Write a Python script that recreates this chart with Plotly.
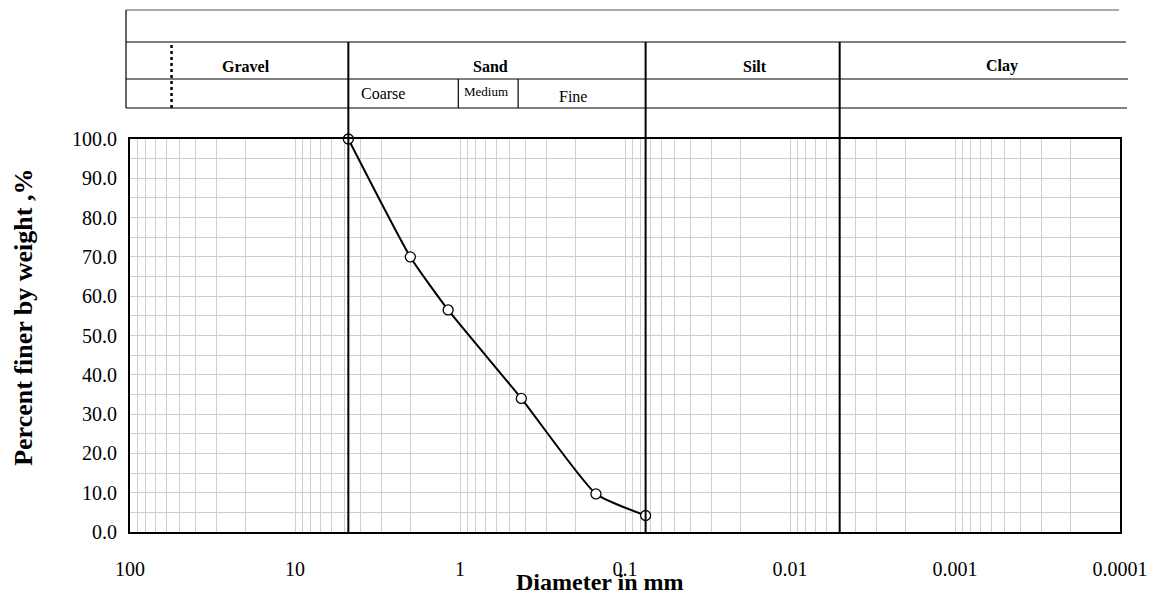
import plotly.graph_objects as go

# ---------------- data ----------------
diameter_mm = [4.75, 2.0, 1.18, 0.425, 0.15, 0.075]
percent_finer = [100.0, 70.0, 56.5, 34.0, 9.7, 4.2]

x_decades = [100, 10, 1, 0.1, 0.01, 0.001, 0.0001]
x_tick_labels = ["100", "10", "1", "0.1", "0.01", "0.001", "0.0001"]
y_tick_values = list(range(0, 101, 5))
y_tick_labels = [f"{v:.1f}" if v % 10 == 0 else "" for v in y_tick_values]

boundaries_mm = [4.75, 0.075, 0.005]     # gravel/sand, sand/silt, silt/clay
dotted_mm = 56

soil_names = ["Gravel", "Sand", "Silt", "Clay"]
sand_names = ["Coarse", "Medium", "Fine"]

# ---------------- geometry (pixels) ----------------
W, H = 1160, 594
L, R, T, B = 130, 1123, 139, 532
pw, ph = R - L, B - T


def px(x):
    return (x - L) / pw


def py(y):
    return (B - y) / ph


FONT = "Liberation Serif, Times New Roman, serif"

# x grid values: all 1..9 multiples within the decades
x_grid = []
for k in range(-4, 2):
    for m in range(1, 10):
        x_grid.append(m * 10.0 ** k)
x_grid.append(100.0)
x_grid_text = []
for v in x_grid:
    lab = ""
    for d, t in zip(x_decades, x_tick_labels):
        if abs(v - d) / d < 1e-9:
            lab = t
    x_grid_text.append(lab)

fig = go.Figure()
fig.add_trace(go.Scatter(
    x=diameter_mm, y=percent_finer, mode="lines+markers",
    line=dict(color="black", width=2, shape="spline", smoothing=0.5),
    marker=dict(symbol="circle", size=10, color="white",
                line=dict(color="black", width=1.3)),
    cliponaxis=False, showlegend=False,
))

shapes = []
# header table lines
header_lines = [
    (126, 1122, 10, "#555555"),
    (126, 1129, 42, "black"),
    (126, 1131, 79, "black"),
    (126, 1130, 108, "black"),
]
for x0, x1, y, c in header_lines:
    shapes.append(dict(type="line", xref="paper", yref="paper",
                       x0=px(x0), x1=px(x1), y0=py(y), y1=py(y),
                       line=dict(color=c, width=1.2)))
shapes.append(dict(type="line", xref="paper", yref="paper",
                   x0=px(126), x1=px(126), y0=py(10), y1=py(108),
                   line=dict(color="black", width=1.2)))
# sand subdivisions in header
for xx in (459.3, 519.3):
    shapes.append(dict(type="line", xref="paper", yref="paper",
                       x0=px(xx), x1=px(xx), y0=py(79), y1=py(108),
                       line=dict(color="black", width=1.2)))
# boundary lines (data x on the log axis)
for b in boundaries_mm:
    shapes.append(dict(type="line", xref="x", yref="paper",
                       x0=b, x1=b, y0=0, y1=py(42),
                       line=dict(color="black", width=2)))
shapes.append(dict(type="line", xref="x", yref="paper",
                   x0=dotted_mm, x1=dotted_mm, y0=py(108), y1=py(45),
                   line=dict(color="black", width=2.5, dash="dot")))

annotations = []
for name, cx, cy in zip(soil_names, [246, 491.7, 757, 1004.7], [67, 67, 67, 66]):
    annotations.append(dict(text=f"<b>{name}</b>", xref="paper", yref="paper",
                            x=px(cx), y=py(cy), xanchor="center", yanchor="middle",
                            showarrow=False, font=dict(family=FONT, size=16, color="black")))
for name, cx, cy, sz in zip(sand_names, [384, 487.5, 574], [94, 91, 96.5], [16, 13, 16]):
    annotations.append(dict(text=name, xref="paper", yref="paper",
                            x=px(cx), y=py(cy), xanchor="center", yanchor="middle",
                            showarrow=False, font=dict(family=FONT, size=sz, color="black")))
annotations.append(dict(text="<b>Percent finer by weight ,%</b>", xref="paper", yref="paper",
                        x=px(23), y=py(317.5), xanchor="center", yanchor="middle",
                        textangle=-90, showarrow=False,
                        font=dict(family=FONT, size=26, color="black")))
annotations.append(dict(text="<b>Diameter in mm</b>", xref="paper", yref="paper",
                        x=px(601), y=py(582), xanchor="center", yanchor="middle",
                        showarrow=False, font=dict(family=FONT, size=24, color="black")))

fig.update_layout(
    width=W, height=H,
    margin=dict(l=L, r=W - R, t=T, b=H - B),
    paper_bgcolor="white", plot_bgcolor="white",
    font=dict(family=FONT, color="black"),
    shapes=shapes, annotations=annotations,
    xaxis=dict(type="log", range=[2, -4], tickmode="array",
               tickvals=x_grid, ticktext=x_grid_text,
               showgrid=True, gridcolor="#cfcfcf", gridwidth=1,
               showline=True, mirror=True, linecolor="black", linewidth=2,
               ticks="", ticklabelstandoff=18, zeroline=False,
               tickfont=dict(family=FONT, size=20, color="black")),
    yaxis=dict(range=[0, 100], tickmode="array",
               tickvals=y_tick_values, ticktext=y_tick_labels,
               showgrid=True, gridcolor="#cfcfcf", gridwidth=1,
               showline=True, mirror=True, linecolor="black", linewidth=2,
               ticks="", ticklabelstandoff=7, zeroline=False,
               tickfont=dict(family=FONT, size=20, color="black")),
)

fig.write_html("out.html")
